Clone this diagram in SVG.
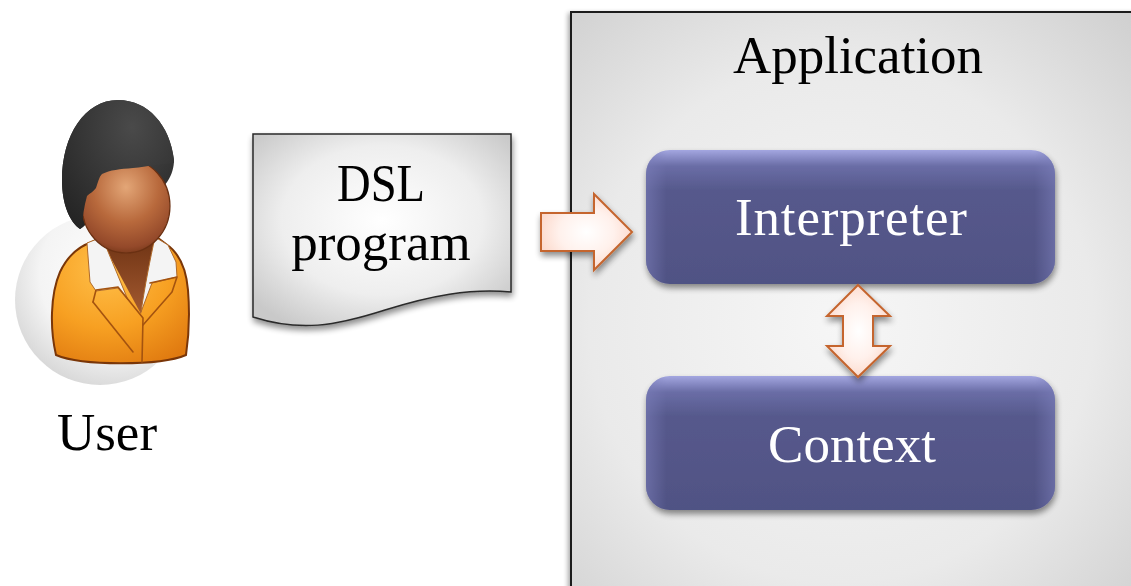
<svg xmlns="http://www.w3.org/2000/svg" width="1131" height="586" viewBox="0 0 1131 586">
  <defs>
    <radialGradient id="appFill" cx="0.45" cy="0.5" r="0.7">
      <stop offset="0" stop-color="#f6f6f6"/>
      <stop offset="0.6" stop-color="#eaeaea"/>
      <stop offset="1" stop-color="#cfcfcf"/>
    </radialGradient>
    <radialGradient id="docFill" cx="0.5" cy="0.45" r="0.65">
      <stop offset="0" stop-color="#ffffff"/>
      <stop offset="0.6" stop-color="#eeeeee"/>
      <stop offset="1" stop-color="#c9c9c9"/>
    </radialGradient>
    <linearGradient id="boxFill" x1="0" y1="0" x2="0" y2="1">
      <stop offset="0" stop-color="#a3a6e0"/>
      <stop offset="0.12" stop-color="#6a6da6"/>
      <stop offset="0.3" stop-color="#56598c"/>
      <stop offset="1" stop-color="#505284"/>
    </linearGradient>
    <linearGradient id="boxSide" x1="0" y1="0" x2="1" y2="0">
      <stop offset="0" stop-color="#7c7fbb" stop-opacity="0.55"/>
      <stop offset="0.05" stop-color="#7c7fbb" stop-opacity="0"/>
      <stop offset="0.95" stop-color="#7c7fbb" stop-opacity="0"/>
      <stop offset="1" stop-color="#7c7fbb" stop-opacity="0.55"/>
    </linearGradient>
    <radialGradient id="arrowFill" cx="0.5" cy="0.5" r="0.6">
      <stop offset="0" stop-color="#ffffff"/>
      <stop offset="0.5" stop-color="#fff1ec"/>
      <stop offset="1" stop-color="#fbd2c2"/>
    </radialGradient>
    <radialGradient id="sphere" cx="0.6" cy="0.35" r="0.7">
      <stop offset="0" stop-color="#ffffff"/>
      <stop offset="0.65" stop-color="#f4f4f4"/>
      <stop offset="1" stop-color="#d6d6d6"/>
    </radialGradient>
    <radialGradient id="hairFill" cx="0.6" cy="0.25" r="0.8">
      <stop offset="0" stop-color="#4a4a4a"/>
      <stop offset="1" stop-color="#242424"/>
    </radialGradient>
    <radialGradient id="faceFill" cx="0.5" cy="0.3" r="0.75">
      <stop offset="0" stop-color="#e3a677"/>
      <stop offset="0.5" stop-color="#b8693c"/>
      <stop offset="0.85" stop-color="#94492a"/>
      <stop offset="1" stop-color="#6e3314"/>
    </radialGradient>
    <radialGradient id="bodyFill" cx="0.4" cy="0.25" r="0.85">
      <stop offset="0" stop-color="#ffc04a"/>
      <stop offset="0.55" stop-color="#f7a022"/>
      <stop offset="1" stop-color="#e07a10"/>
    </radialGradient>
    <linearGradient id="neckFill" x1="0" y1="0" x2="0" y2="1">
      <stop offset="0" stop-color="#6e3314"/>
      <stop offset="1" stop-color="#a45a30"/>
    </linearGradient>
    <clipPath id="hairClip">
      <path d="M80,229 C70,222 62,205 62,180 C62,135 85,100 118,100 C148,100 170,125 174,160 C174,175 165,190 150,195 L95,205 C92,215 88,225 80,229 Z"/>
    </clipPath>
    <filter id="shadow" x="-10%" y="-10%" width="125%" height="130%">
      <feGaussianBlur in="SourceAlpha" stdDeviation="3"/>
      <feOffset dx="1" dy="4" result="b"/>
      <feComponentTransfer><feFuncA type="linear" slope="0.45"/></feComponentTransfer>
      <feMerge><feMergeNode/><feMergeNode in="SourceGraphic"/></feMerge>
    </filter>
    <filter id="softShadow" x="-5%" y="-5%" width="110%" height="110%">
      <feGaussianBlur in="SourceAlpha" stdDeviation="2.5"/>
      <feOffset dx="-2" dy="2" result="b"/>
      <feComponentTransfer><feFuncA type="linear" slope="0.35"/></feComponentTransfer>
      <feMerge><feMergeNode/><feMergeNode in="SourceGraphic"/></feMerge>
    </filter>
  </defs>
  <style>
    .label { font-family: "Liberation Serif", "Times New Roman", serif; font-size: 53px; text-anchor: middle; }
    .dark { fill: #000000; }
    .light { fill: #ffffff; }
    .box { fill: url(#boxFill); filter: url(#shadow); }
    .arrow { fill: url(#arrowFill); stroke: #c5652e; stroke-width: 2; stroke-linejoin: miter; filter: url(#shadow); }
    .hair { fill: url(#hairFill); }
    .collar { fill: #f4f4f4; stroke: #b06a2a; stroke-width: 1; stroke-linejoin: round; }
    .lapel { fill: none; stroke: #a4530f; stroke-width: 1.6; stroke-linejoin: round; stroke-linecap: round; }
  </style>

  <rect width="1131" height="586" fill="#ffffff"/>

  <!-- application container -->
  <g id="application">
    <rect x="571" y="12" width="600" height="620" fill="url(#appFill)" stroke="#1a1a1a" stroke-width="2" filter="url(#softShadow)"/>
    <text class="label dark" x="858" y="73">Application</text>
  </g>

  <!-- user figure -->
  <g id="user">
    <circle cx="100" cy="300" r="85" fill="url(#sphere)"/>
    <!-- back of the hair -->
    <path class="hair" d="M80,229 C70,222 62,205 62,180 C62,135 85,100 118,100 C148,100 170,125 174,160 C174,175 165,190 150,195 L95,205 C92,215 88,225 80,229 Z"/>
    <!-- body -->
    <path d="M56,355 C50,330 50,295 60,272 C68,255 80,246 92,242 L100,238 L158,238 L166,244 C178,252 186,266 188,290 C190,315 189,335 186,355 C160,366 82,366 56,355 Z" fill="url(#bodyFill)" stroke="#7a3608" stroke-width="2"/>
    <!-- neck -->
    <path d="M100,238 L158,238 L141,314 Z" fill="url(#neckFill)"/>
    <!-- collar -->
    <path class="collar" d="M87,243 L102,237 L128,300 L118,288 L96,291 L90,282 Z"/>
    <path class="collar" d="M155,237 L168,245 L176,262 L177,277 L152,283 L141,312 C145,285 150,260 155,237 Z"/>
    <!-- lapels -->
    <path class="lapel" d="M93,302 L96,290 L118,287 L143,318 L142,362"/>
    <path class="lapel" d="M93,302 L133,352"/>
    <path class="lapel" d="M150,283 L177,277 L172,292 L143,325"/>
    <!-- face -->
    <ellipse cx="126" cy="206" rx="44" ry="47" fill="url(#faceFill)" stroke="#6a3012" stroke-width="1.2"/>
    <!-- fringe over the forehead -->
    <path class="hair" clip-path="url(#hairClip)" d="M60,240 L80,240 C82,225 83,210 87,196 C90,193 93,192 96,188 C98,182 99,177 102,174 C110,170 120,169 133,168 C150,166 160,164 180,162 L180,90 L60,90 Z"/>
    <text class="label dark" x="107" y="450">User</text>
  </g>

  <!-- DSL program document -->
  <g id="dsl-program">
    <path d="M253,134 L511,134 L511,292 C470,288 430,296 385,310 C335,326 300,332 253,317 Z" fill="url(#docFill)" stroke="#2a2a2a" stroke-width="1.5" filter="url(#shadow)"/>
    <text class="label dark" x="381" y="201" textLength="88" lengthAdjust="spacingAndGlyphs">DSL</text>
    <text class="label dark" x="381" y="260">program</text>
  </g>

  <!-- interpreter -->
  <g id="interpreter">
    <rect class="box" x="646" y="150" width="409" height="134" rx="24"/>
    <rect x="646" y="150" width="409" height="134" rx="24" fill="url(#boxSide)"/>
    <text class="label light" x="851" y="235" textLength="232" lengthAdjust="spacing">Interpreter</text>
  </g>

  <!-- context -->
  <g id="context">
    <rect class="box" x="646" y="376" width="409" height="134" rx="24"/>
    <rect x="646" y="376" width="409" height="134" rx="24" fill="url(#boxSide)"/>
    <text class="label light" x="852" y="462">Context</text>
  </g>

  <!-- connectors -->
  <g id="connectors">
    <path class="arrow" d="M541,213 L594,213 L594,194 L632,232 L594,270 L594,251 L541,251 Z"/>
    <path class="arrow" d="M858,285 L890,316 L873,316 L873,346 L890,346 L858,377 L827,346 L843,346 L843,316 L827,316 Z"/>
  </g>
</svg>
